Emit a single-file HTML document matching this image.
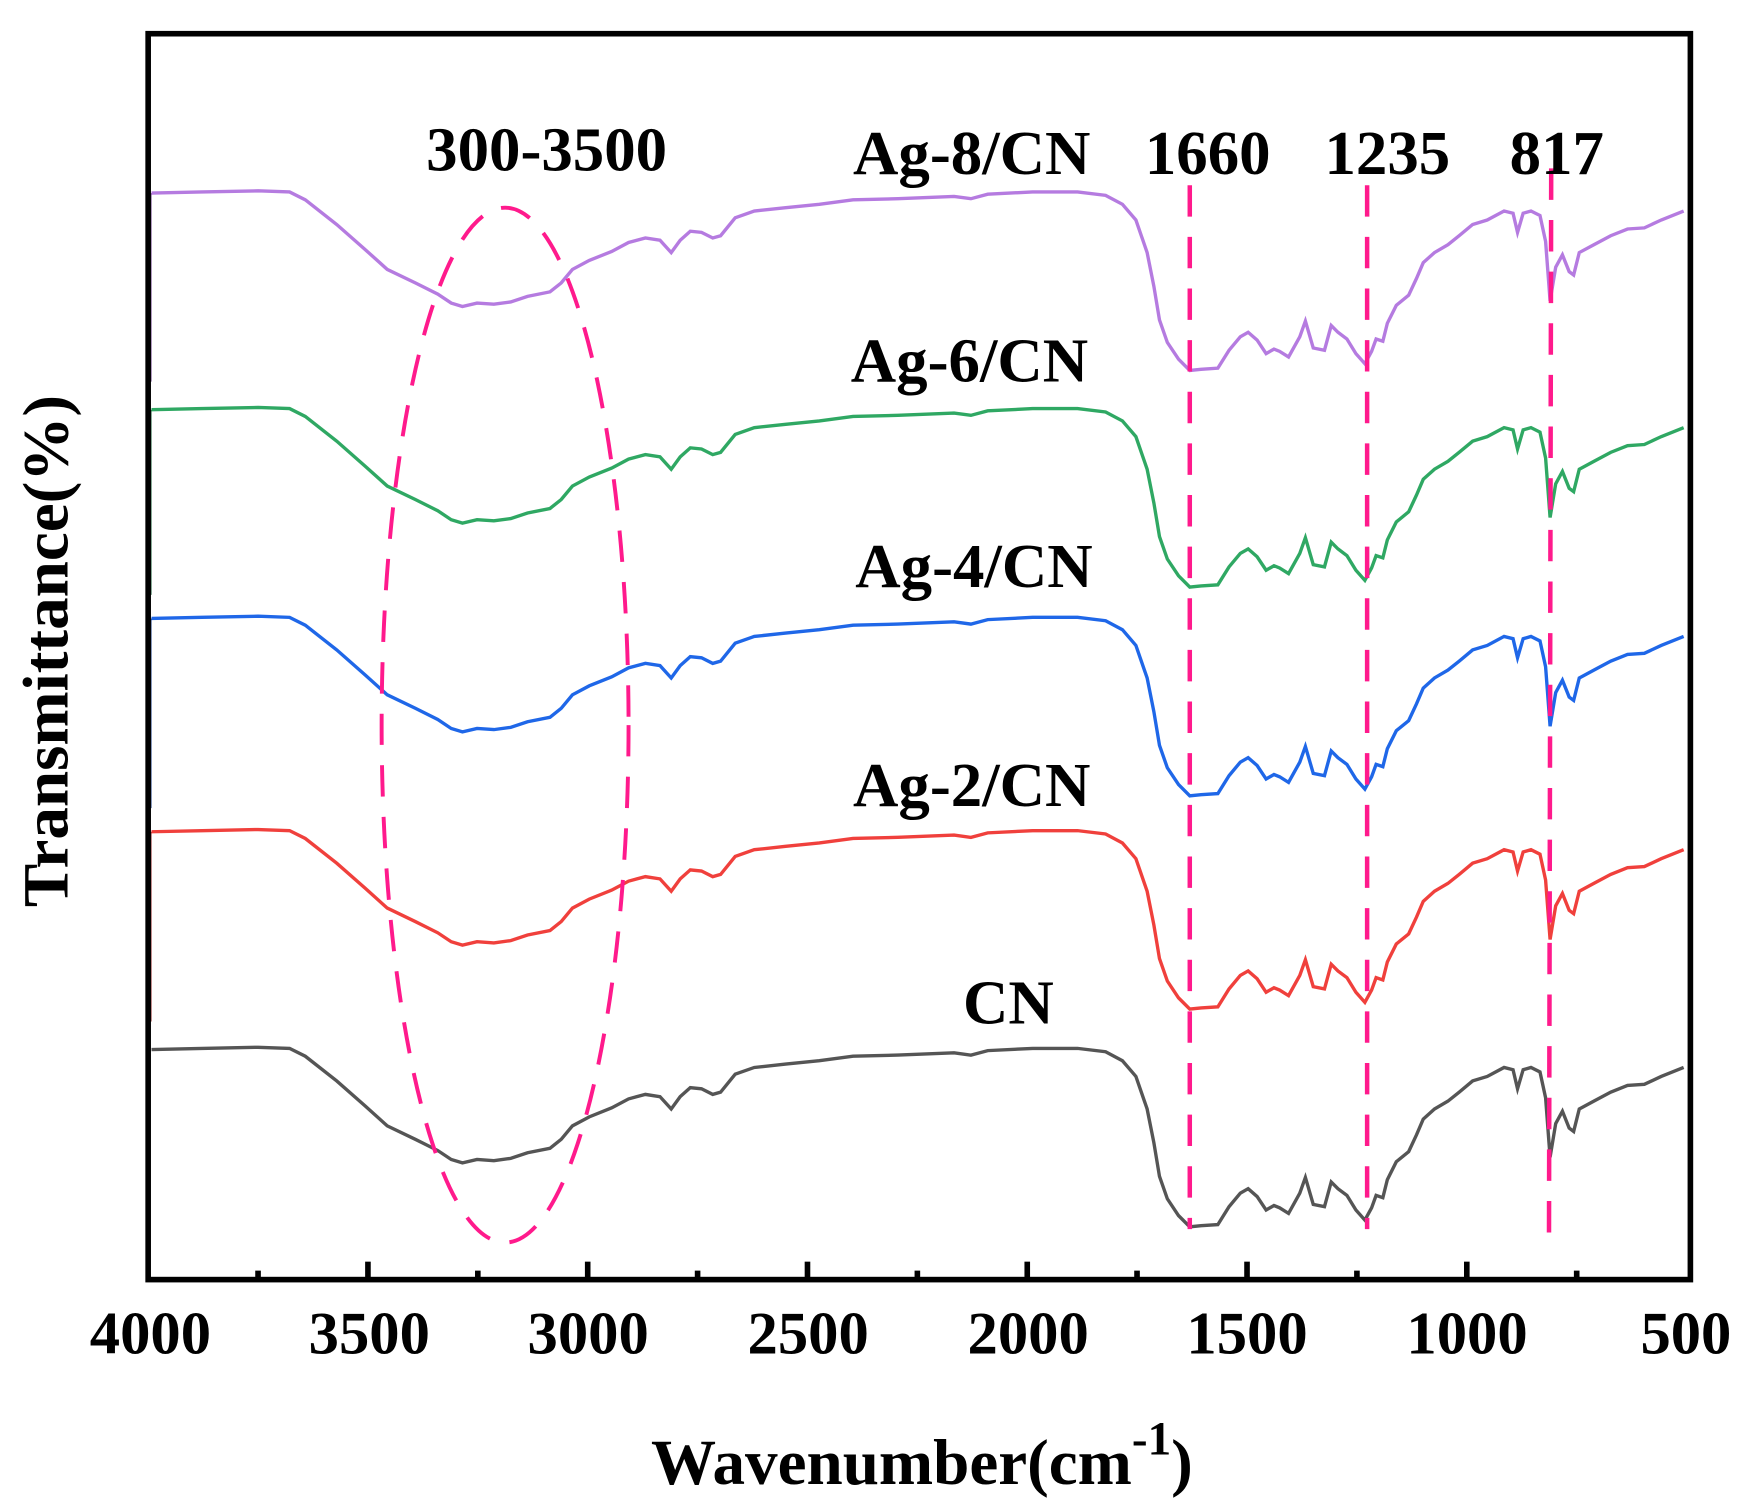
<!DOCTYPE html>
<html><head><meta charset="utf-8"><style>
html,body{margin:0;padding:0;background:#fff;}
svg{display:block;}
text{font-family:"Liberation Serif",serif;font-weight:bold;fill:#000;}
</style></head><body>
<svg width="1751" height="1503" viewBox="0 0 1560 1339" xmlns="http://www.w3.org/2000/svg">
<defs>
<path id="sp" fill="none" d="M135,172 L180,171 L230,170 L258,171 L272,178 L300,200 L325,222 L345,240 L370,252 L390,262 L402,270 L412,273 L425,270 L440,271 L455,269 L470,264 L490,260 L500,252 L510,240 L525,232 L545,224 L560,216 L575,212 L588,214 L598,225 L606,214 L615,206 L625,207 L635,212 L642,210 L655,194 L672,188 L700,185 L730,182 L760,178 L800,177 L850,175 L865,177 L880,173 L920,171 L960,171 L985,174 L1000,182 L1012,196 L1022,225 L1028,255 L1033,285 L1040,305 L1050,320 L1060,330 L1070,329 L1085,328 L1095,312 L1105,300 L1112,296 L1120,303 L1128,315 L1135,311 L1140,313 L1148,318 L1158,300 L1163,286 L1170,310 L1180,312 L1186,290 L1192,296 L1200,302 L1208,315 L1216,324 L1222,313 L1226,302 L1232,304 L1236,288 L1244,272 L1255,263 L1262,248 L1268,234 L1278,225 L1290,218 L1300,210 L1312,200 L1325,196 L1340,188 L1348,190 L1352,207 L1357,190 L1364,188 L1372,192 L1377,215 L1381,268 L1386,238 L1392,227 L1398,242 L1402,245 L1407,225 L1420,218 L1435,210 L1450,204 L1465,203 L1480,196 L1500,188"/>
</defs>
<!-- left colored segments -->
<line x1="133" y1="172" x2="133" y2="340" stroke="#6a3f86" stroke-width="4"/>
<line x1="133" y1="365" x2="133" y2="530" stroke="#1f5e3a" stroke-width="4"/>
<line x1="133" y1="551" x2="133" y2="720" stroke="#1f3e80" stroke-width="4"/>
<line x1="133" y1="741" x2="133" y2="910" stroke="#8a2828" stroke-width="4"/>
<!-- curves -->
<use href="#sp" stroke="#b57be0" stroke-width="3"/>
<use href="#sp" stroke="#2fa863" stroke-width="3" transform="translate(0,193)"/>
<use href="#sp" stroke="#1f67e8" stroke-width="3" transform="translate(0,379)"/>
<use href="#sp" stroke="#f0403c" stroke-width="3" transform="translate(0,569)"/>
<use href="#sp" stroke="#555555" stroke-width="3" transform="translate(0,763)"/>
<!-- pink dashes -->
<g stroke="#ff1a8c" stroke-width="4" fill="none" stroke-dasharray="28,18">
<line x1="1060" y1="165" x2="1060" y2="1095"/>
<line x1="1218" y1="165" x2="1218" y2="1095"/>
<line x1="1382" y1="150" x2="1380" y2="1115"/>
<ellipse cx="450" cy="646" rx="110" ry="461" stroke-width="3.5"/>
</g>
<!-- frame -->
<rect x="132" y="30" width="1374" height="1110" fill="none" stroke="#000" stroke-width="5"/>
<g stroke="#000" stroke-width="5">
<line x1="327.8" y1="1140" x2="327.8" y2="1124"/>
<line x1="523.6" y1="1140" x2="523.6" y2="1124"/>
<line x1="719.4" y1="1140" x2="719.4" y2="1124"/>
<line x1="915.2" y1="1140" x2="915.2" y2="1124"/>
<line x1="1111" y1="1140" x2="1111" y2="1124"/>
<line x1="1306.8" y1="1140" x2="1306.8" y2="1124"/>
<line x1="229.9" y1="1140" x2="229.9" y2="1132"/>
<line x1="425.7" y1="1140" x2="425.7" y2="1132"/>
<line x1="621.5" y1="1140" x2="621.5" y2="1132"/>
<line x1="817.3" y1="1140" x2="817.3" y2="1132"/>
<line x1="1013" y1="1140" x2="1013" y2="1132"/>
<line x1="1208.9" y1="1140" x2="1208.9" y2="1132"/>
<line x1="1404.7" y1="1140" x2="1404.7" y2="1132"/>
</g>
<g font-size="54" text-anchor="middle">
<text x="134" y="1206">4000</text>
<text x="329" y="1206">3500</text>
<text x="524" y="1206">3000</text>
<text x="720" y="1206">2500</text>
<text x="916" y="1206">2000</text>
<text x="1111" y="1206">1500</text>
<text x="1307" y="1206">1000</text>
<text x="1502" y="1206">500</text>
</g>
<g font-size="56">
<text x="487" y="152" text-anchor="middle">300-3500</text>
<text x="760" y="155">Ag-8/CN</text>
<text x="1020" y="155">1660</text>
<text x="1180" y="155">1235</text>
<text x="1345" y="155">817</text>
<text x="758" y="340">Ag-6/CN</text>
<text x="762" y="523">Ag-4/CN</text>
<text x="760" y="718">Ag-2/CN</text>
<text x="858" y="912">CN</text>
</g>
<text x="580" y="1322" font-size="58">Wavenumber(cm<tspan dy="-26" font-size="42">-1</tspan><tspan dy="26">)</tspan></text>
<text transform="translate(60,580) rotate(-90)" font-size="58" text-anchor="middle">Transmittance(%)</text>
</svg>
</body></html>
